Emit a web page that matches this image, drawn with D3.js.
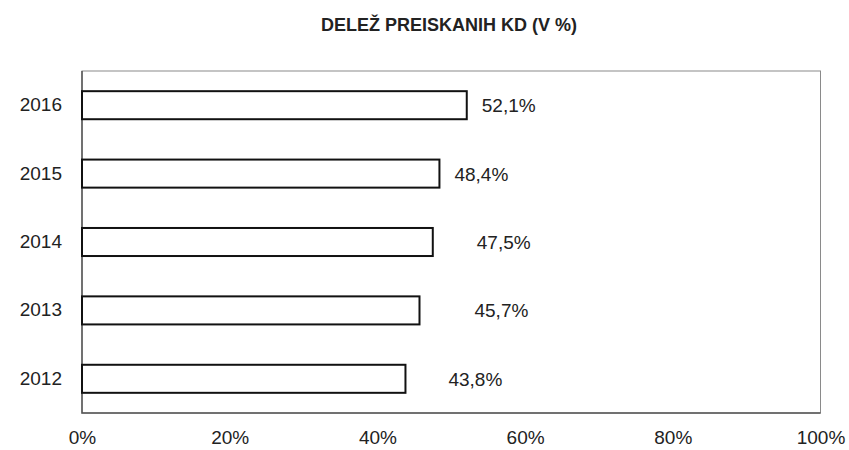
<!DOCTYPE html>
<html><head><meta charset="utf-8">
<script src="https://cdn.jsdelivr.net/npm/d3@7"></script>
<style>body{margin:0;background:#fff}svg{display:block}text{font-family:"Liberation Sans",Arial,sans-serif;fill:#222}</style>
</head><body>
<script>
const title = "DELEŽ PREISKANIH KD (V %)";
const years = ["2016", "2015", "2014", "2013", "2012"];
const values = [52.1, 48.4, 47.5, 45.7, 43.8];
const valueLabels = ["52,1%", "48,4%", "47,5%", "45,7%", "43,8%"];
const xTicks = [0, 20, 40, 60, 80, 100];
const labelNudge = [15, 15, 44, 55, 43];

const W = 849, H = 450;
const m = {left: 82, right: 28, top: 71, bottom: 37};
const svg = d3.select("body").append("svg").attr("width", W).attr("height", H);

const x = d3.scaleLinear().domain([0, 100]).range([m.left, W - m.right - 0.5]);
const y = d3.scaleBand().domain(years).range([m.top, H - m.bottom]).paddingInner(0.59).paddingOuter(0.295);

svg.append("text").attr("x", 449).attr("y", 31).attr("text-anchor", "middle")
  .style("font-size", "18px").style("font-weight", "bold").text(title);

// frame
svg.append("rect").attr("x", m.left).attr("y", m.top)
  .attr("width", x(100) - m.left).attr("height", H - m.bottom - m.top)
  .attr("fill", "none").attr("stroke", "#8a8a8a").attr("stroke-width", 1);
svg.append("path").attr("d", `M${m.left},${m.top}V${H - m.bottom}H${x(100)}`)
  .attr("fill", "none").attr("stroke", "#555").attr("stroke-width", 1.5);

svg.selectAll("rect.bar").data(values).join("rect").attr("class", "bar")
  .attr("x", x(0)).attr("y", (d, i) => y(years[i]))
  .attr("width", d => x(d) - x(0)).attr("height", y.bandwidth())
  .attr("fill", "#fff").attr("stroke", "#111").attr("stroke-width", 2);

svg.selectAll("text.val").data(values).join("text").attr("class", "val")
  .attr("x", (d, i) => x(d) + labelNudge[i])
  .attr("y", (d, i) => y(years[i]) + y.bandwidth() / 2 + 7)
  .style("font-size", "19px").text((d, i) => valueLabels[i]);

const yAxis = svg.append("g").attr("transform", `translate(${m.left},0)`)
  .call(d3.axisLeft(y).tickSize(0).tickPadding(20));
yAxis.select(".domain").remove();
yAxis.selectAll("text").style("font-size", "19px").attr("fill", "#222")
  .style("font-family", '"Liberation Sans",Arial,sans-serif');

const xAxis = svg.append("g").attr("transform", `translate(0,${H - m.bottom})`)
  .call(d3.axisBottom(x).tickValues(xTicks).tickSize(0).tickPadding(18).tickFormat(d => d + "%"));
xAxis.select(".domain").remove();
xAxis.selectAll("text").style("font-size", "19px").attr("fill", "#222")
  .style("font-family", '"Liberation Sans",Arial,sans-serif');
</script>
</body></html>
